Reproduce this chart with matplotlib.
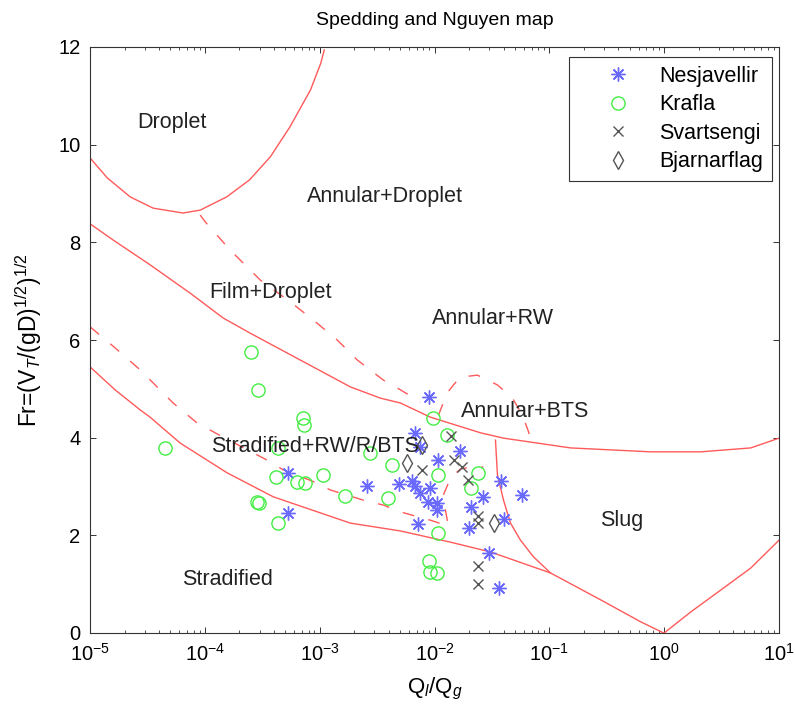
import numpy as np
import matplotlib
matplotlib.use('Agg')
import matplotlib.pyplot as plt
from matplotlib.ticker import LogLocator, NullFormatter, FixedLocator

plt.rcParams['font.family'] = ['Liberation Sans', 'DejaVu Sans']
plt.rcParams['mathtext.fontset'] = 'custom'
plt.rcParams['mathtext.rm'] = 'Liberation Sans'
plt.rcParams['mathtext.it'] = 'Liberation Sans:italic'
plt.rcParams['mathtext.bf'] = 'Liberation Sans:bold'

# ---------------- data (Q_l/Q_g , Fr) ----------------
nesja_q = [5.3e-4, 5.3e-4, 2.6e-3, 4.9e-3, 9.0e-3, 6.8e-3, 7.5e-3, 1.68e-2, 1.08e-2,
           6.4e-3, 6.8e-3, 9.2e-3, 7.5e-3, 8.85e-3, 1.06e-2, 1.06e-2, 7.25e-3, 2.67e-2,
           2.06e-2, 3.76e-2, 5.83e-2, 3.99e-2, 1.98e-2, 3.01e-2, 3.68e-2]
nesja_fr = [3.28, 2.46, 3.01, 3.05, 4.83, 4.10, 3.81, 3.73, 3.54,
            3.11, 3.01, 2.97, 2.87, 2.68, 2.66, 2.52, 2.23, 2.79,
            2.58, 3.11, 2.83, 2.33, 2.15, 1.64, 0.92]

krafla_q = [4.5e-5, 2.5e-4, 2.9e-4, 7.2e-4, 7.3e-4, 4.3e-4, 4.2e-4, 6.4e-4, 7.5e-4,
            1.07e-3, 2.86e-4, 2.97e-4, 4.35e-4, 1.67e-3, 2.76e-3, 4.3e-3, 3.96e-3,
            9.8e-3, 1.29e-2, 1.08e-2, 2.37e-2, 2.06e-2, 1.08e-2, 9.0e-3, 9.2e-3, 1.06e-2]
krafla_fr = [3.79, 5.75, 4.98, 4.40, 4.26, 3.79, 3.19, 3.09, 3.07,
             3.24, 2.68, 2.66, 2.25, 2.81, 3.69, 3.44, 2.76,
             4.40, 4.05, 3.24, 3.28, 2.97, 2.05, 1.47, 1.25, 1.23]

svarts_q = [1.40e-2, 7.83e-3, 1.49e-2, 1.72e-2, 1.94e-2, 2.37e-2, 2.37e-2, 2.37e-2, 2.37e-2]
svarts_fr = [4.03, 3.34, 3.54, 3.40, 3.13, 2.40, 2.25, 1.37, 1.00]

bjarn_q = [7.83e-3, 5.81e-3, 3.33e-2]
bjarn_fr = [3.85, 3.48, 2.25]

# ---------------- regime boundaries (log10 Q_l/Q_g , Fr) ----------------
droplet_lq = [-5.0, -4.85, -4.65, -4.45, -4.19, -4.04, -3.81, -3.61, -3.43, -3.26, -3.08, -2.99, -2.96]
droplet_fr = [9.73, 9.32, 8.93, 8.70, 8.60, 8.66, 8.93, 9.28, 9.75, 10.36, 11.12, 11.67, 11.94]

film_lq = [-5.0, -4.80, -4.477, -4.128, -3.84, -3.605, -3.169, -2.733, -2.472, -2.297, -2.036,
           -1.60, -1.399, -1.164, -0.815, -0.118, 0.318, 0.754, 1.0]
film_fr = [8.38, 8.05, 7.54, 6.96, 6.45, 6.14, 5.59, 5.04, 4.81, 4.71, 4.42,
           4.10, 3.99, 3.91, 3.79, 3.71, 3.71, 3.79, 3.99]

strat_lq = [-5.0, -4.782, -4.564, -4.477, -4.215, -3.806, -3.405, -2.733, -2.297, -1.861,
            -1.513, -0.99, -0.554, -0.205, -0.004]
strat_fr = [5.45, 4.98, 4.57, 4.42, 3.89, 3.28, 2.79, 2.25, 2.09, 1.86,
            1.66, 1.23, 0.68, 0.23, 0.0]

slugL_lq = [-1.469, -1.452, -1.399, -1.338, -1.251, -1.138, -0.99]
slugL_fr = [3.95, 3.24, 2.72, 2.25, 1.90, 1.56, 1.23]

slugR_lq = [1.0, 0.754, 0.493, 0.231, 0.0]
slugR_fr = [1.90, 1.33, 0.88, 0.43, 0.0]

dashA_lq = [-4.041, -3.997, -3.779, -3.518, -3.256, -3.056, -2.847, -2.672, -2.446, -2.297, -2.123]
dashA_fr = [8.56, 8.42, 7.84, 7.23, 6.78, 6.41, 6.00, 5.59, 5.18, 4.98, 4.73]

dashB_lq = [-5.0, -4.782, -4.564, -4.276, -4.067, -3.84, -3.457, -3.317, -3.021, -2.908, -2.62,
            -2.446, -2.297, -2.036, -1.879, -1.905, -1.922, -1.861, -1.774, -1.67, -1.574]
dashB_fr = [6.27, 5.84, 5.39, 4.71, 4.30, 4.01, 3.54, 3.34, 3.07, 2.93, 2.72,
            2.62, 2.48, 2.31, 2.19, 2.52, 2.83, 3.17, 3.36, 3.40, 3.40]

dome_lq = [-1.966, -1.888, -1.835, -1.774, -1.626, -1.452, -1.321, -1.234, -1.181, -1.164]
dome_fr = [4.46, 4.92, 5.08, 5.24, 5.28, 5.08, 4.81, 4.46, 4.12, 3.95]

# ---------------- region labels ----------------
label_text = ['Droplet', 'Annular+Droplet', 'Film+Droplet', 'Annular+RW', 'Annular+BTS',
              'Stradified+RW/R/BTS', 'Slug', 'Stradified']
label_q = [5.2e-5, 3.73e-3, 3.7e-4, 3.2e-2, 6.2e-2, 9.2e-4, 0.43, 1.56e-4]
label_fr = [10.46, 8.93, 6.98, 6.45, 4.53, 3.81, 2.31, 1.09]

x_ticks = [1e-5, 1e-4, 1e-3, 1e-2, 1e-1, 1e0, 1e1]
y_ticks = [0, 2, 4, 6, 8, 10, 12]

# ---------------- figure ----------------
fig = plt.figure(figsize=(7.95, 7.11), dpi=100)
ax = fig.add_axes([90/795, 1-633/711, (779-90)/795, (633-47)/711])

red = '#ff5a5a'
dash = (0, (8.5, 10.5))
ax.plot(10**np.array(droplet_lq), droplet_fr, color=red, lw=1.0)
ax.plot(10**np.array(film_lq), film_fr, color=red, lw=1.0)
ax.plot(10**np.array(strat_lq), strat_fr, color=red, lw=1.0)
ax.plot(10**np.array(slugL_lq), slugL_fr, color=red, lw=1.0)
ax.plot(10**np.array(slugR_lq), slugR_fr, color=red, lw=1.0)
ax.plot(10**np.array(dashA_lq), dashA_fr, color=red, lw=1.0, ls=dash)
ax.plot(10**np.array(dashB_lq), dashB_fr, color=red, lw=1.0, ls=dash)
ax.plot(10**np.array(dome_lq), dome_fr, color=red, lw=1.0, ls=dash)

ast = (8, 2, 0)
ax.plot(nesja_q, nesja_fr, ls='none', marker=ast, ms=10, mec='#6a6aff', mew=1.0, label='Nesjavellir')
ax.plot(krafla_q, krafla_fr, ls='none', marker='o', ms=9.5, mfc='none', mec='#44ee44', mew=1.0, label='Krafla')
ax.plot(svarts_q, svarts_fr, ls='none', marker='x', ms=6.5, mec='#555555', mew=1.0, label='Svartsengi')
ax.plot(bjarn_q, bjarn_fr, ls='none', marker='d', ms=9, mfc='none', mec='#555555', mew=1.0, label='Bjarnarflag')

for t, q, f in zip(label_text, label_q, label_fr):
    ax.text(q, f, t, ha='center', va='center', fontsize=15.5, color='#222222')

ax.set_xscale('log')
ax.set_xlim(1e-5, 10)
ax.set_ylim(0, 12)
ax.set_yticks(y_ticks)
ax.xaxis.set_major_locator(FixedLocator(x_ticks))
ax.xaxis.set_minor_locator(LogLocator(base=10, subs=np.arange(2, 10), numticks=100))
ax.xaxis.set_minor_formatter(NullFormatter())
ax.tick_params(which='both', direction='in', top=True, right=True, labelsize=14.5, color='#333333')
ax.tick_params(which='major', length=4.5, width=0.7, pad=7)
ax.tick_params(which='minor', length=2.5, width=0.6)
for s in ax.spines.values():
    s.set_linewidth(0.8)
    s.set_color('#333333')

ax.set_title('Spedding and Nguyen map', fontsize=14, pad=16)
ax.set_xlabel(r'Q$_l$/Q$_g$', fontsize=16, labelpad=8)
ax.set_ylabel(r'Fr=(V$_T$/(gD)$^{1/2}$)$^{1/2}$', fontsize=16.5, labelpad=10)

leg = ax.legend(loc='upper right', bbox_to_anchor=((772-90)/689, (633-57)/586),
                borderaxespad=0, fontsize=15.5, frameon=True, fancybox=False,
                edgecolor='#333333', framealpha=1, handlelength=3.76, handletextpad=0.05,
                labelspacing=0.35, borderpad=0.4, numpoints=1)
leg.get_frame().set_linewidth(0.8)

fig.savefig('out.png', dpi=100)
